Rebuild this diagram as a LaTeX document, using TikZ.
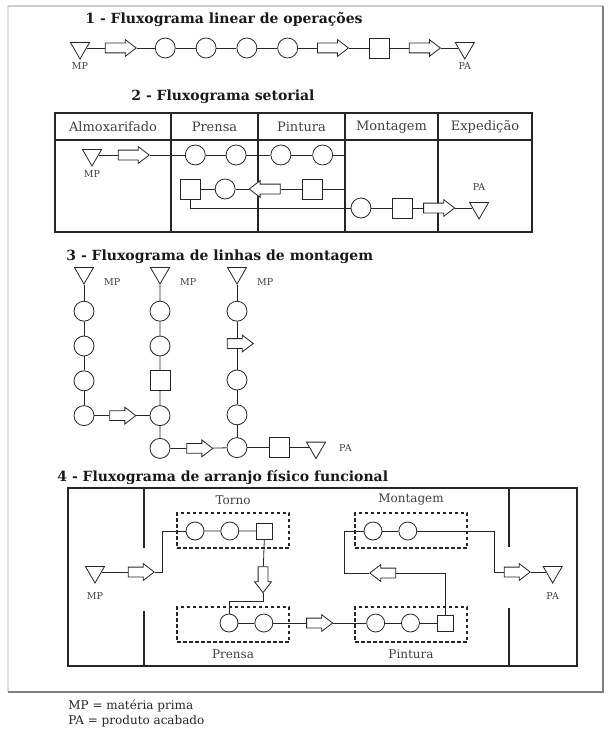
\documentclass[tikz,border=0pt]{standalone}
\usepackage{fontspec}
\setmainfont{DejaVu Serif}
\usetikzlibrary{positioning,shapes.geometric,shapes.arrows}

\tikzset{
  op/.style={circle, draw, fill=white, minimum size=20pt, inner sep=0pt},
  insp/.style={rectangle, draw, fill=white, minimum size=20pt, inner sep=0pt},
  transp/.style={single arrow, draw, fill=white, inner xsep=0pt, inner ysep=4.5pt,
    minimum height=31pt, single arrow head extend=3.5pt, single arrow tip angle=75},
  estoque/.style={regular polygon, regular polygon sides=3, shape border rotate=180,
    draw, fill=white, minimum size=22pt, inner sep=0pt},
  rotulo/.style={font=\fontsize{9.5}{11}\selectfont, text=black!75, inner sep=0pt},
  titulo/.style={font=\fontsize{14}{16}\selectfont\bfseries, text=black!90, anchor=west, inner sep=0pt},
  setor/.style={font=\fontsize{13}{15}\selectfont, text=black!75, inner sep=0pt},
  setorq/.style={font=\fontsize{12}{14}\selectfont, text=black!75, inner sep=0pt},
  grupo/.style={draw, line width=1.3pt, dash pattern=on 3.5pt off 2.5pt,
    minimum width=112pt, minimum height=35pt},
  quadro/.style={line width=1.1pt},
  legenda/.style={font=\fontsize{12}{14}\selectfont, text=black!85, anchor=west, inner sep=0pt}
}

\begin{document}
\begin{tikzpicture}[x=1pt, y=-1pt, line width=0.8pt, draw=black!85]
  \useasboundingbox (0,0) rectangle (610,733);
  % moldura
  \draw[black!12, line width=1.5pt] (8,692) -- (8,6);
  \draw[black!20, line width=1.5pt] (8,6) -- (603,6);
  \draw[black!50, line width=1.5pt] (603,6) -- (603,692) -- (8,692);

  % 1 - linear
  \node[titulo] (tit1) at (85,20) {1 - Fluxograma linear de operações};
  \node[estoque] (mp1) at (80,48) {};
  \node[transp, right=18pt of mp1] (t1_1) {};
  \node[op, right=18pt of t1_1] (op1_1) {};
  \node[op, right=20pt of op1_1] (op1_2) {};
  \node[op, right=20pt of op1_2] (op1_3) {};
  \node[op, right=20pt of op1_3] (op1_4) {};
  \node[transp, right=19pt of op1_4] (t1_2) {};
  \node[insp, right=20pt of t1_2] (insp1_1) {};
  \node[transp, right=19pt of insp1_1] (t1_3) {};
  \node[estoque, right=17pt of t1_3] (pa1) {};
  \node[rotulo, below=2pt of mp1] (mp1_lbl) {MP};
  \node[rotulo, below=2pt of pa1] (pa1_lbl) {PA};

  \draw (mp1) -- (t1_1) -- (op1_1) -- (op1_2) -- (op1_3) -- (op1_4) -- (t1_2)
        -- (insp1_1) -- (t1_3) -- (pa1);

  % 2 - setorial
  \node[titulo] (tit2) at (131,97) {2 - Fluxograma setorial};
  \draw[quadro] (55,113) rectangle (532,232);
  \draw[quadro] (55,140) -- (532,140);
  \foreach \x in {171,258,345,438}
    \draw[quadro] (\x,113) -- (\x,232);
  \foreach \x/\nome [count=\i] in {113/Almoxarifado, 214.5/Prensa, 301.5/Pintura,
      391.5/Montagem, 485/Expedição}
    \node[setor] (setor\i) at (\x,127) {\nome};

  \node[estoque] (mp2) at (92,155) {};
  \node[transp, right=19pt of mp2] (t2_1) {};
  \node[op, right=35pt of t2_1] (op2_1) {};
  \node[op, right=20pt of op2_1] (op2_2) {};
  \node[op, right=24pt of op2_2] (op2_3) {};
  \node[op, right=21pt of op2_3] (op2_4) {};

  \node[insp] (insp2_1) at (312,189) {};
  \node[transp, shape border rotate=180, left=21pt of insp2_1] (t2_2) {};
  \node[op, left=13pt of t2_2] (op2_5) {};
  \node[insp, left=14pt of op2_5] (insp2_2) {};

  \node[op] (op2_6) at (361,208) {};
  \node[insp, right=21pt of op2_6] (insp2_3) {};
  \node[transp, right=10pt of insp2_3] (t2_3) {};
  \node[estoque, right=17pt of t2_3] (pa2) {};
  \node[rotulo, below=3pt of mp2] (mp2_lbl) {MP};
  \node[rotulo, above=11pt of pa2] (pa2_lbl) {PA};

  \draw (mp2) -- (t2_1) -- (op2_1) -- (op2_2) -- (op2_3) -- (op2_4);
  \draw (op2_4.east) -- ++(11,0) |- (insp2_1);
  \draw (insp2_1) -- (t2_2) -- (op2_5) -- (insp2_2);
  \draw (insp2_2) |- (op2_6);
  \draw (op2_6) -- (insp2_3) -- (t2_3) -- (pa2);

  % 3 - linhas de montagem
  \node[titulo] (tit3) at (66,257) {3 - Fluxograma de linhas de montagem};
  \node[estoque] (mp3_1) at (84,273) {};
  \node[op, below=16pt of mp3_1] (op3_1) {};
  \node[op, below=14pt of op3_1] (op3_2) {};
  \node[op, below=14pt of op3_2] (op3_3) {};
  \node[op, below=14pt of op3_3] (op3_4) {};

  \node[estoque] (mp3_2) at (160,273) {};
  \node[op, below=16pt of mp3_2] (op3_5) {};
  \node[op, below=14pt of op3_5] (op3_6) {};
  \node[insp, below=14pt of op3_6] (insp3_1) {};
  \node[op, below=14pt of insp3_1] (op3_7) {};
  \node[op, below=12pt of op3_7] (op3_8) {};

  \node[estoque] (mp3_3) at (237,273) {};
  \node[op, below=16pt of mp3_3] (op3_9) {};
  \node[transp, minimum height=26pt] (t3_3) at (237,343.5) {};
  \node[op, below=48pt of op3_9] (op3_10) {};
  \node[op, below=14pt of op3_10] (op3_11) {};
  \node[op, below=12pt of op3_11] (op3_12) {};

  \node[transp, minimum height=26pt, right=15pt of op3_4] (t3_1) {};
  \node[transp, minimum height=26pt, right=16pt of op3_8] (t3_2) {};
  \node[insp, right=22pt of op3_12] (insp3_2) {};
  \node[estoque, right=19pt of insp3_2] (pa3) {};

  \node[rotulo, right=13pt of mp3_1, yshift=-9pt] (mp3_1_lbl) {MP};
  \node[rotulo, right=13pt of mp3_2, yshift=-9pt] (mp3_2_lbl) {MP};
  \node[rotulo, right=13pt of mp3_3, yshift=-9pt] (mp3_3_lbl) {MP};
  \node[rotulo, right=16pt of pa3] (pa3_lbl) {PA};

  \draw (mp3_1) -- (op3_1) -- (op3_2) -- (op3_3) -- (op3_4) -- (t3_1) -- (op3_7);
  \draw (mp3_2) -- (op3_5) -- (op3_6) -- (insp3_1) -- (op3_7) -- (op3_8) -- (t3_2) -- (op3_12);
  \draw (mp3_3) -- (op3_9) -- (t3_3) -- (op3_10) -- (op3_11) -- (op3_12) -- (insp3_2) -- (pa3);

  % 4 - arranjo fisico funcional
  \node[titulo] (tit4) at (57,477) {4 - Fluxograma de arranjo físico funcional};
  \draw[quadro] (68,488) rectangle (577,666);
  \draw[quadro] (144,488) -- (144,548) (144,611) -- (144,666)
                (509,488) -- (509,547) (509,608) -- (509,666);

  \node[grupo] (torno) at (233,530.5) {};
  \node[grupo] (prensa) at (233,624.5) {};
  \node[grupo] (montagem) at (411,530.5) {};
  \node[grupo] (pintura) at (411,624.5) {};
  \node[setorq, above=7pt of torno] (torno_lbl) {Torno};
  \node[setorq, below=7pt of prensa] (prensa_lbl) {Prensa};
  \node[setorq, above=7pt of montagem] (montagem_lbl) {Montagem};
  \node[setorq, below=7pt of pintura] (pintura_lbl) {Pintura};

  \begin{scope}[op/.append style={minimum size=18pt}, insp/.append style={minimum size=16pt},
                transp/.append style={minimum height=26pt}]
    \node[estoque] (mp4) at (95,572) {};
    \node[transp, right=26pt of mp4] (t4_1) {};
    \node[op] (op4_1) at (195,531) {};
    \node[op, right=16pt of op4_1] (op4_2) {};
    \node[insp, right=17pt of op4_2] (insp4_1) {};
    \node[transp, rotate=-90] (t4_2) at (263,576.5) {};
    \node[op] (op4_3) at (229,623) {};
    \node[op, right=16pt of op4_3] (op4_4) {};
    \node[transp, right=33pt of op4_4] (t4_3) {};
    \node[op, right=33pt of t4_3] (op4_5) {};
    \node[op, right=16pt of op4_5] (op4_6) {};
    \node[insp, right=17pt of op4_6] (insp4_2) {};
    \node[transp, shape border rotate=180] (t4_4) at (386,573) {};
    \node[op] (op4_7) at (373,531) {};
    \node[op, right=16pt of op4_7] (op4_8) {};
    \node[transp] (t4_5) at (514,572) {};
    \node[estoque, right=15pt of t4_5] (pa4) {};
  \end{scope}
  \node[rotulo, below=8pt of mp4] (mp4_lbl) {MP};
  \node[rotulo, below=8pt of pa4] (pa4_lbl) {PA};

  \draw (mp4) -- (t4_1);
  \draw (t4_1.tip) -- ++(8,0) |- (op4_1);
  \draw (op4_1) -- (op4_2) -- (insp4_1) -- (t4_2);
  \draw (t4_2.tip) -- ++(0,8) -| (op4_3);
  \draw (op4_3) -- (op4_4) -- (t4_3) -- (op4_5) -- (op4_6) -- (insp4_2);
  \draw (insp4_2) |- (t4_4);
  \draw (t4_4.tip) -- ++(-25,0) |- (op4_7);
  \draw (op4_7) -- (op4_8);
  \draw (op4_8.east) -- ++(77,0) |- (t4_5);
  \draw (t4_5) -- (pa4);

  % legenda
  \node[legenda] (leg1) at (68,706) {MP = matéria prima};
  \node[legenda] (leg2) at (68,721) {PA = produto acabado};
\end{tikzpicture}
\end{document}
